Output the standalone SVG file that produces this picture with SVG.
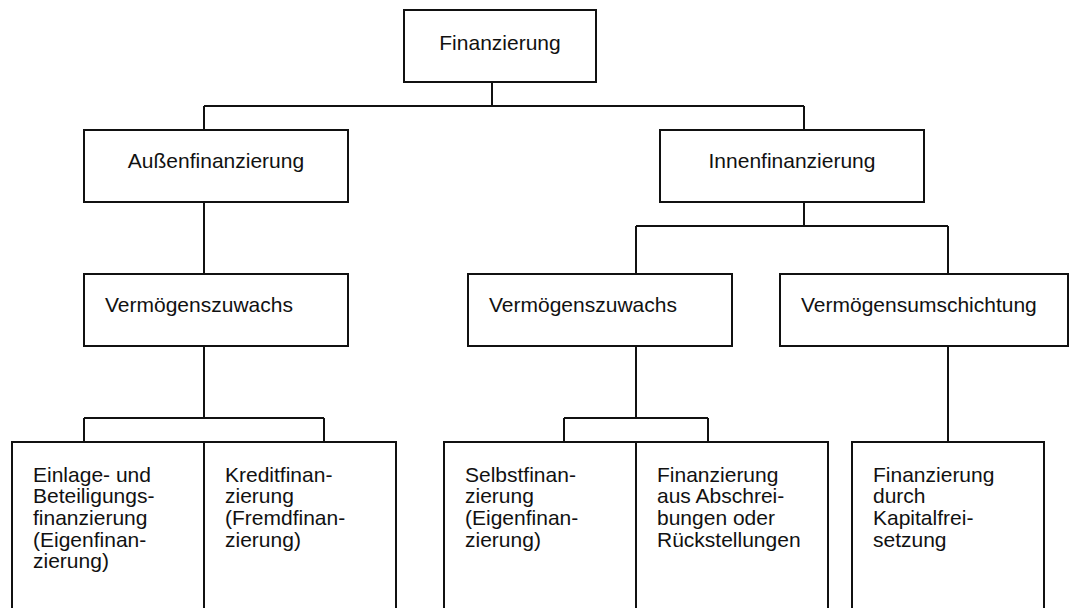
<svg xmlns="http://www.w3.org/2000/svg" width="1072" height="608" viewBox="0 0 1072 608">
<style>
.box{fill:#fff;stroke:#111;stroke-width:2}
.c{fill:none;stroke:#111;stroke-width:2}
text{font-family:"Liberation Sans",Arial,sans-serif;font-size:21px;fill:#111}
.m{text-anchor:middle}
</style>
<rect width="1072" height="608" fill="#fff"/>
<g id="connectors">
<path class="c" d="M492 82V106M204 106H804M204 106V130M804 106V130"/>
<path class="c" d="M204 202V274"/>
<path class="c" d="M804 202V226M636 226H948M636 226V274M948 226V274"/>
<path class="c" d="M204 346V418M84 418H324M84 418V442M324 418V442"/>
<path class="c" d="M636 346V418M564 418H708M564 418V442M708 418V442"/>
<path class="c" d="M948 346V442"/>
</g>
<g id="n-finanzierung"><rect class="box" x="404" y="10" width="192" height="72"/><text class="m" x="500" y="50">Finanzierung</text></g>
<g id="n-aussen"><rect class="box" x="84" y="130" width="264" height="72"/><text class="m" x="216" y="168">Außenfinanzierung</text></g>
<g id="n-innen"><rect class="box" x="660" y="130" width="264" height="72"/><text class="m" x="792" y="168">Innenfinanzierung</text></g>
<g id="n-vz-aussen"><rect class="box" x="84" y="274" width="264" height="72"/><text x="105" y="312">Vermögenszuwachs</text></g>
<g id="n-vz-innen"><rect class="box" x="468" y="274" width="264" height="72"/><text x="489" y="312">Vermögenszuwachs</text></g>
<g id="n-vu"><rect class="box" x="780" y="274" width="288" height="72"/><text x="801" y="312">Vermögensumschichtung</text></g>
<g id="n-einlage"><rect class="box" x="12" y="442" width="192" height="180"/><text x="33" y="481.5"><tspan x="33">Einlage- und</tspan><tspan x="33" dy="21.7">Beteiligungs-</tspan><tspan x="33" dy="21.7">finanzierung</tspan><tspan x="33" dy="21.7">(Eigenfinan-</tspan><tspan x="33" dy="21.7">zierung)</tspan></text></g>
<g id="n-kredit"><rect class="box" x="204" y="442" width="192" height="180"/><text x="225" y="481.5"><tspan x="225">Kreditfinan-</tspan><tspan x="225" dy="21.7">zierung</tspan><tspan x="225" dy="21.7">(Fremdfinan-</tspan><tspan x="225" dy="21.7">zierung)</tspan></text></g>
<g id="n-selbst"><rect class="box" x="444" y="442" width="192" height="180"/><text x="465" y="481.5"><tspan x="465">Selbstfinan-</tspan><tspan x="465" dy="21.7">zierung</tspan><tspan x="465" dy="21.7">(Eigenfinan-</tspan><tspan x="465" dy="21.7">zierung)</tspan></text></g>
<g id="n-abschreibung"><rect class="box" x="636" y="442" width="192" height="180"/><text x="657" y="481.5"><tspan x="657">Finanzierung</tspan><tspan x="657" dy="21.7">aus Abschrei-</tspan><tspan x="657" dy="21.7">bungen oder</tspan><tspan x="657" dy="21.7">Rückstellungen</tspan></text></g>
<g id="n-kapital"><rect class="box" x="852" y="442" width="192" height="180"/><text x="873" y="481.5"><tspan x="873">Finanzierung</tspan><tspan x="873" dy="21.7">durch</tspan><tspan x="873" dy="21.7">Kapitalfrei-</tspan><tspan x="873" dy="21.7">setzung</tspan></text></g>
</svg>
